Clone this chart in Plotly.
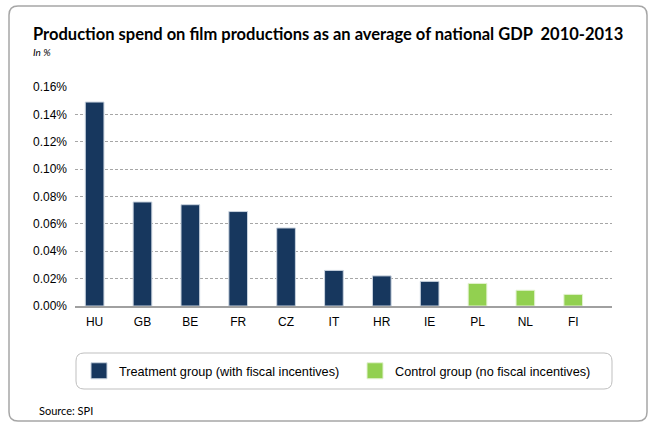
import plotly.graph_objects as go

# ---- data ----
treatment_countries = ["HU", "GB", "BE", "FR", "CZ", "IT", "HR", "IE"]
treatment_values = [0.149, 0.076, 0.074, 0.069, 0.057, 0.026, 0.022, 0.018]
control_countries = ["PL", "NL", "FI"]
control_values = [0.0165, 0.0115, 0.0085]
categories = treatment_countries + control_countries
y_ticks = [0, 0.02, 0.04, 0.06, 0.08, 0.10, 0.12, 0.14, 0.16]
y_tick_labels = ["0.00%", "0.02%", "0.04%", "0.06%", "0.08%", "0.10%", "0.12%", "0.14%", "0.16%"]

title_text = "Production spend on film productions as an average of national GDP  2010-2013"
subtitle_text = "In %"
source_text = "Source: SPI"
treatment_name = "Treatment group (with fiscal incentives)"
control_name = "Control group (no fiscal incentives)"

NAVY = "#17375E"
GREEN = "#92D050"

W, H = 659, 428
L, R, T, B = 75, 612, 87, 306  # plot area in pixels

def px(x):
    return (x - L) / (R - L)

def py(y):
    return (B - y) / (B - T)

def rounded_rect(x0, y0, x1, y1, r):
    pts = [
        f"M {px(x0 + r)},{py(y0)}",
        f"L {px(x1 - r)},{py(y0)}",
        f"Q {px(x1)},{py(y0)} {px(x1)},{py(y0 + r)}",
        f"L {px(x1)},{py(y1 - r)}",
        f"Q {px(x1)},{py(y1)} {px(x1 - r)},{py(y1)}",
        f"L {px(x0 + r)},{py(y1)}",
        f"Q {px(x0)},{py(y1)} {px(x0)},{py(y1 - r)}",
        f"L {px(x0)},{py(y0 + r)}",
        f"Q {px(x0)},{py(y0)} {px(x0 + r)},{py(y0)}",
        "Z",
    ]
    return " ".join(pts)

fig = go.Figure()
fig.add_trace(go.Bar(
    x=treatment_countries, y=treatment_values, name=treatment_name,
    marker=dict(color=NAVY, line=dict(color="#c9d3df", width=1)),
    width=0.39, showlegend=False,
))
fig.add_trace(go.Bar(
    x=control_countries, y=control_values, name=control_name,
    marker=dict(color=GREEN, line=dict(color="#e3f2d0", width=1)),
    width=0.39, showlegend=False,
))
# legend entries
fig.add_trace(go.Scatter(
    x=[None], y=[None], mode="markers", name=treatment_name, legend="legend",
    marker=dict(symbol="square", size=16, color=NAVY, line=dict(color="#c9d3df", width=1)),
))
fig.add_trace(go.Scatter(
    x=[None], y=[None], mode="markers", name=control_name, legend="legend2",
    marker=dict(symbol="square", size=16, color=GREEN, line=dict(color="#e3f2d0", width=1)),
))

legend_common = dict(
    orientation="h", y=py(371), xanchor="left", yanchor="middle",
    xref="paper", yref="paper",
    bgcolor="rgba(0,0,0,0)", borderwidth=0,
    font=dict(size=12.7, family="Liberation Sans, Arial, sans-serif"),
    itemclick=False, itemdoubleclick=False,
)

fig.update_layout(
    width=W, height=H,
    margin=dict(l=L, r=W - R, t=T, b=H - B, pad=0),
    paper_bgcolor="white", plot_bgcolor="white",
    barmode="overlay",
    font=dict(family="Liberation Sans, Arial, sans-serif", size=12, color="#000000"),
    showlegend=True,
    legend=dict(x=px(79), **legend_common),
    legend2=dict(x=px(355), **legend_common),
    xaxis=dict(
        type="category", categoryorder="array", categoryarray=categories,
        range=[-0.41, 10.81],
        showgrid=False, zeroline=False,
        showline=True, linecolor="#a0a0a0", linewidth=2,
        ticks="", ticklabelstandoff=4,
        tickfont=dict(size=12),
    ),
    yaxis=dict(
        range=[0, 0.16], tickmode="array", tickvals=y_ticks, ticktext=y_tick_labels,
        showgrid=True, gridcolor="#a6a6a6", gridwidth=1, griddash="3px,2px",
        zeroline=False, showline=False, ticks="", ticklabelstandoff=7,
        tickfont=dict(size=12),
    ),
    shapes=[
        dict(type="path", xref="paper", yref="paper", path=rounded_rect(9, 6, 647, 421, 9),
             line=dict(color="#a6a6a6", width=1.5), fillcolor="rgba(0,0,0,0)", layer="below"),
        dict(type="path", xref="paper", yref="paper", path=rounded_rect(76, 353, 612, 389, 8),
             line=dict(color="#bfbfbf", width=1), fillcolor="rgba(0,0,0,0)", layer="below"),
    ],
    annotations=[
        dict(text=f"<b>{title_text}</b>", x=px(31), y=py(34), xref="paper", yref="paper",
             xanchor="left", yanchor="middle", showarrow=False,
             font=dict(family="Lato, Carlito, Calibri, sans-serif", size=16.5, color="#000000")),
        dict(text=f"<i>{subtitle_text}</i>", x=px(31), y=py(52), xref="paper", yref="paper",
             xanchor="left", yanchor="middle", showarrow=False,
             font=dict(family="Lato, Carlito, Calibri, sans-serif", size=10, color="#000000")),
        dict(text=source_text, x=px(37), y=py(410), xref="paper", yref="paper",
             xanchor="left", yanchor="middle", showarrow=False,
             font=dict(family="Lato, Carlito, Calibri, sans-serif", size=11, color="#000000")),
    ],
)

fig.write_html(
    "out.html",
    config={"displayModeBar": False},
    post_script="document.body.style.margin='0';document.body.style.overflow='hidden';",
)
